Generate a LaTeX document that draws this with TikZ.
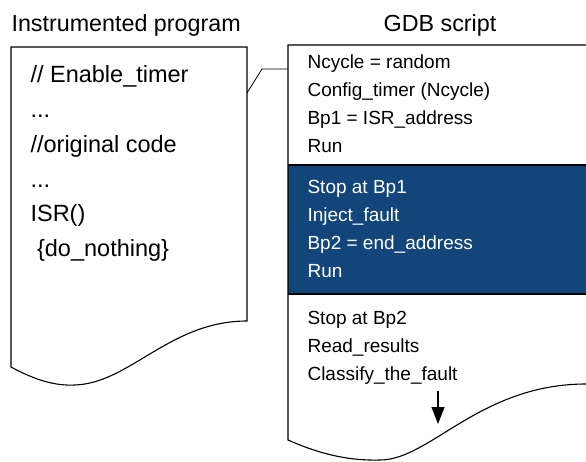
\documentclass[tikz,border=0pt]{standalone}
\usepackage{fontspec}
\setmainfont{Liberation Sans}
\usepackage{xcolor}
\usetikzlibrary{arrows,arrows.meta,positioning}
\definecolor{bandblue}{RGB}{18,69,122}

\begin{document}
\begin{tikzpicture}[x=1pt,y=-1pt,>=stealth',line width=1.1pt]
\tikzstyle{title}=[font=\fontsize{23.3}{24}\selectfont,inner sep=0pt]
\tikzstyle{codeline}=[font=\fontsize{23.5}{24}\selectfont,inner sep=0pt,anchor=base west]
\tikzstyle{gdbline}=[font=\fontsize{19}{20}\selectfont,inner sep=0pt,anchor=base west]
\useasboundingbox (0,0) rectangle (586,461);
\clip (0,0) rectangle (586,461);

% titles
\node[title,anchor=base west] (PROGTITLE) at (11,31.5) {Instrumented program};
\node[title,anchor=base] (GDBTITLE) at (440,31.5) {GDB script};

% instrumented program sheet
\draw (11,367) -- (11,47) -- (247,47) -- (247,321)
      .. controls (170,321) and (130,383) .. (75,385)
      .. controls (55,386) and (35,380) .. cycle;

% gdb script sheet
\fill[bandblue] (288,165) rectangle (600,294);
\draw (288,440) -- (288,45) -- (600,45) -- (600,384) -- (586,384)
      .. controls (480,384) and (430,460) .. (380,460)
      .. controls (345,461) and (315,452) .. cycle;
\draw (288,165) -- (600,165);
\draw (288,294) -- (600,294);

% link between the two
\coordinate (PROGJOIN) at (247,93);
\coordinate (GDBJOIN) at (288,69);
\draw[line width=0.8pt] (PROGJOIN) -- ++(15,-24) -- (GDBJOIN);

% program lines
\node[codeline] (ENABLE) at (30,82) {// Enable\_timer};
\node[below=35pt of ENABLE.base west,codeline] (DOTS1) {...};
\node[below=35pt of DOTS1.base west,codeline] (ORIG) {//original code};
\node[below=35pt of ORIG.base west,codeline] (DOTS2) {...};
\node[below=34pt of DOTS2.base west,codeline] (ISR) {ISR()};
\node[below=35pt of ISR.base west,codeline] (NOTHING) {\ \{do\_nothing\}};

% script lines
\node[gdbline] (NCYCLE) at (307,68) {Ncycle = random};
\node[below=28.5pt of NCYCLE.base west,gdbline] (CONFIG) {Config\_timer (Ncycle)};
\node[below=28pt of CONFIG.base west,gdbline] (BPONE) {Bp1 = ISR\_address};
\node[below=28pt of BPONE.base west,gdbline] (RUNONE) {Run};
\node[below=41pt of RUNONE.base west,gdbline,text=white] (STOPONE) {Stop at Bp1};
\node[below=28pt of STOPONE.base west,gdbline,text=white] (INJECT) {Inject\_fault};
\node[below=28pt of INJECT.base west,gdbline,text=white] (BPTWO) {Bp2 = end\_address};
\node[below=28pt of BPTWO.base west,gdbline,text=white] (RUNTWO) {Run};
\node[below=47pt of RUNTWO.base west,gdbline] (STOPTWO) {Stop at Bp2};
\node[below=28pt of STOPTWO.base west,gdbline] (READ) {Read\_results};
\node[below=27.5pt of READ.base west,gdbline] (CLASSIFY) {Classify\_the\_fault};

\coordinate (MORE) at (438,424);
\draw[-{Triangle[length=17pt,width=13pt]},line width=1.3pt] (438,391) -- (MORE);
\end{tikzpicture}
\end{document}
